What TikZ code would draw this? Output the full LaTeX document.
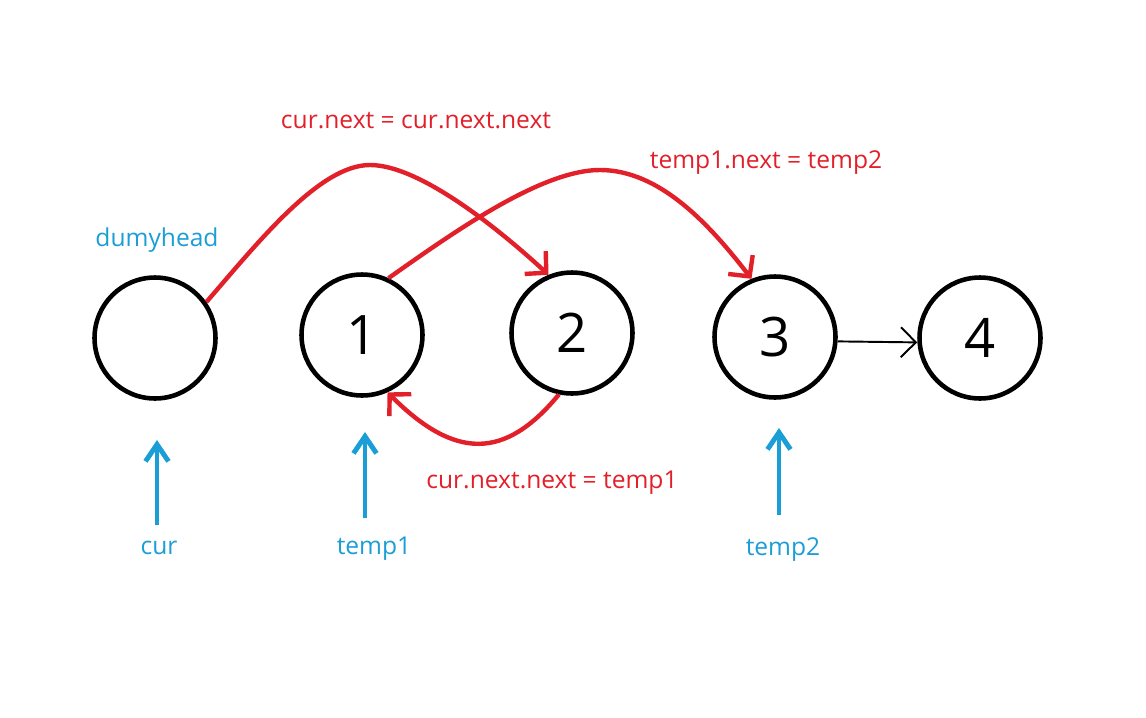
\documentclass[tikz,border=0pt]{standalone}
\usepackage{fontspec}
\setmainfont{Open Sans}
\usetikzlibrary{arrows.meta}
\definecolor{ptrred}{RGB}{226,32,42}
\definecolor{ptrblue}{RGB}{27,158,214}
\begin{document}
\begin{tikzpicture}[x=0.02cm,y=-0.02cm,
        listnode/.style={draw,circle,line width=2.6pt,minimum size=2.42cm,inner sep=0pt,font=\fontsize{31}{33}\selectfont},
        redlink/.style={ptrred,line width=2.5pt,-{Straight Barb[length=0.3cm,width=0.62cm]}},
        pointer/.style={ptrblue,line width=2.8pt,-{Straight Barb[length=0.34cm,width=0.46cm]}},
        redtext/.style={text=ptrred,font=\fontsize{14}{16}\selectfont},
        bluetext/.style={text=ptrblue,font=\fontsize{14}{16}\selectfont}]
                \useasboundingbox (0,0) rectangle (1146,717);
                \node[listnode] (H) at (155,338) {};
                \node[listnode] (N1) at (362,335) {1};
                \node[listnode] (N2) at (572,333) {2};
                \node[listnode] (N3) at (775,337) {3};
                \node[listnode] (N4) at (980,338) {4};
                \draw[line width=1.1pt,-{Straight Barb[length=0.3cm,width=0.6cm]}] ([yshift=-2.5pt]N3.east) -- ([yshift=-2.5pt]N4.west);
                \draw[redlink] (H.35) .. controls (260,240) and (320,165) .. (370,165) .. controls (420,165) and (500,230) .. (N2.112);
                \draw[redlink] (N1.65) .. controls (450,235) and (540,170) .. (600,170) .. controls (660,170) and (710,225) .. (N3.112);
                \draw[redlink] (N2.258) .. controls (505,460) and (455,460) .. (N1.294);
                \node[redtext] (L1) at (416,121) {cur.next = cur.next.next};
                \node[redtext] (L2) at (766,163) {temp1.next = temp2};
                \node[redtext] (L3) at (552,483) {cur.next.next = temp1};
                \node[bluetext] (head) at (157,240) {dumyhead};
                \node[bluetext] (cur) at (159,548) {cur};
                \node[bluetext] (t1) at (374,549) {temp1};
                \node[bluetext] (t2) at (783,550) {temp2};
                \coordinate (p0) at (157,440);
                \coordinate (q0) at (157,525);
                \coordinate (p1) at (365,432);
                \coordinate (q1) at (365,518);
                \coordinate (p2) at (779,428);
                \coordinate (q2) at (779,515);
                \draw[pointer] (q0) -- (p0);
                \draw[pointer] (q1) -- (p1);
                \draw[pointer] (q2) -- (p2);
            \end{tikzpicture}
\end{document}
